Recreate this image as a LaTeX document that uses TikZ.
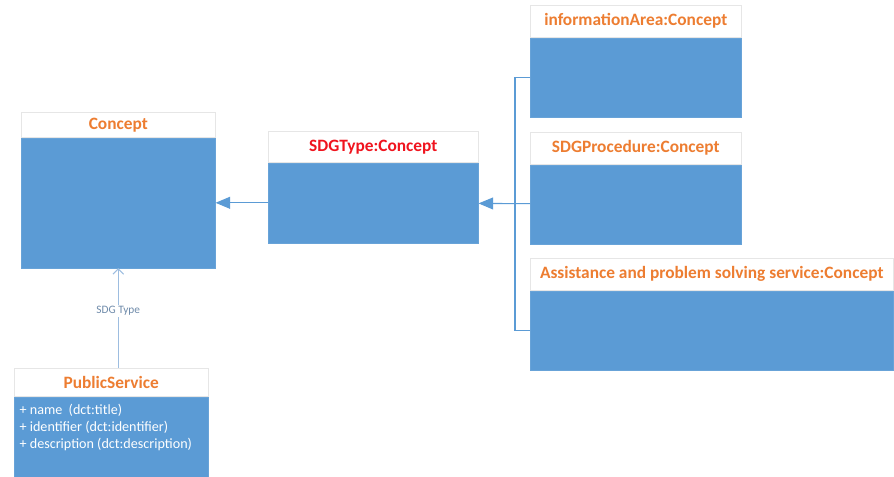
\documentclass[tikz,border=0pt]{standalone}
\usepackage{fontspec}
\setmainfont{Carlito}
\usetikzlibrary{positioning, arrows.meta, shadows}

\definecolor{umlblue}{HTML}{5B9BD5}
\definecolor{umlorange}{HTML}{ED7D31}
\definecolor{umlred}{HTML}{F0141E}
\definecolor{softblue}{HTML}{9DBDE0}
\definecolor{hdrgray}{HTML}{E6E6E6}
\definecolor{lblgray}{HTML}{6F8BAA}
\newcommand{\upx}{0.75pt}

\tikzset{
  hdr/.style={draw=hdrgray, fill=white, anchor=north west, inner sep=0pt,
    text=umlorange, font=\fontsize{13}{15}\selectfont\bfseries},
  bodybox/.style={draw=umlblue!92!white, fill=umlblue, anchor=north, inner sep=0pt,
    drop shadow={shadow xshift=0.8pt, shadow yshift=-0.8pt, opacity=0.2}},
  attr/.style={text=white, align=left, inner xsep=4pt, inner ysep=5.5pt,
    font=\fontsize{10.6}{12.75}\selectfont},
  link/.style={draw=umlblue, line width=0.8pt},
  softlink/.style={draw=softblue, line width=0.8pt},
  lbl/.style={fill=white, inner sep=1pt, text=lblgray, font=\fontsize{8.5}{9}\selectfont},
}

\begin{document}
\begin{tikzpicture}[x=\upx, y=-\upx]
  \useasboundingbox (0,0) rectangle (894,477);

  % Nodes
  \node[hdr, minimum width=194*\upx, minimum height=25*\upx] (concepthd) at (21,112) {Concept};
  \node[bodybox, minimum width=194*\upx, minimum height=130*\upx] (concept) at (concepthd.south) {};

  \node[hdr, text=umlred, minimum width=210*\upx, minimum height=31*\upx] (sdgtypehd) at (268,131) {SDGType:Concept};
  \node[bodybox, minimum width=210*\upx, minimum height=80*\upx] (sdgtype) at (sdgtypehd.south) {};

  \foreach \n/\t/\y/\w in {info/informationArea:Concept/5/211,
                           proc/SDGProcedure:Concept/132/211,
                           assist/Assistance and problem solving service:Concept/258/363}
  {
    \node[hdr, minimum width=\w*\upx, minimum height=32*\upx] (\n hd) at (530,\y) {\t};
    \node[bodybox, minimum width=\w*\upx, minimum height=79*\upx] (\n) at (\n hd.south) {};
  }

  \node[hdr, minimum width=194*\upx, minimum height=28*\upx] (publichd) at (14,368) {PublicService};
  \node[bodybox, minimum width=194*\upx, minimum height=81*\upx] (public) at (publichd.south) {};
  \node[attr, anchor=north west] (publicattrs) at (public.north west)
    {+ name\ \ (dct:title)\\+ identifier (dct:identifier)\\+ description (dct:description)};

  % Arrows
  \draw[link, -{Triangle[length=11pt, width=9pt]}] (sdgtype) -- (concept);
  \draw[link, -{Triangle[length=11pt, width=9pt]}] (proc) -- (sdgtype);
  \coordinate[left=15*\upx of info.west] (bustop);
  \draw[link] (info.west) -- (bustop) |- (assist.west);
  \draw[softlink, -{Straight Barb[length=4pt, width=8pt]}] (publichd.north -| concept.south)
    -- node[lbl, pos=0.57] (sdglbl) {SDG Type} (concept.south);
\end{tikzpicture}
\end{document}
